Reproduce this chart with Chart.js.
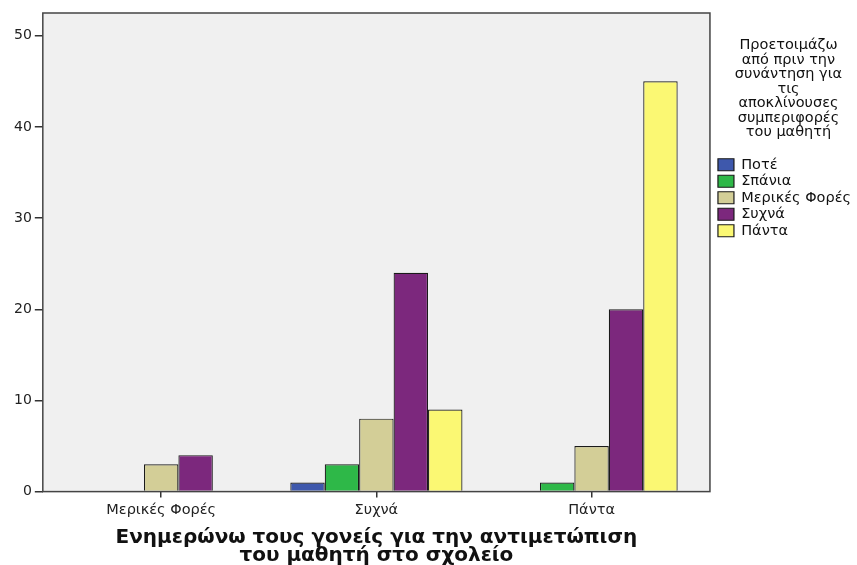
<!DOCTYPE html>
<html>
<head>
<meta charset="utf-8">
<script src="https://cdn.jsdelivr.net/npm/chart.js@4/dist/chart.umd.min.js"></script>
<style>
html, body { margin: 0; padding: 0; background: #fff; }
</style>
</head>
<body>
<canvas id="bar-chart" width="857" height="565"></canvas>
<script>
categories = ['Μερικές Φορές', 'Συχνά', 'Πάντα'];
seriesNames = ['Ποτέ', 'Σπάνια', 'Μερικές Φορές', 'Συχνά', 'Πάντα'];

pote    = [null, 1, null];
spania  = [null, 3, 1];
merikes = [3, 8, 5];
syxna   = [4, 24, 20];
panta   = [null, 9, 45];

colors = ['#3E58AC', '#2EB848', '#D3CE97', '#7C287D', '#FBF873'];
yTicks = [0, 10, 20, 30, 40, 50];

legendTitle = ['Προετοιμάζω', 'από πριν την', 'συνάντηση για', 'τις', 'αποκλίνουσες', 'συμπεριφορές', 'του μαθητή'];
axisTitle = ['Ενημερώνω τους γονείς για την αντιμετώπιση', 'του μαθητή στο σχολείο'];

font = 'DejaVu Sans';
series = [pote, spania, merikes, syxna, panta];

// grey plot background + frame, like SPSS
const plotFrame = {
  id: 'plotFrame',
  afterLayout(chart) {
    // legend sits a little further right than chart.js puts it
    chart.legend.left += 6;
    chart.legend.right += 6;
  },
  beforeDraw(chart) {
    const {ctx, chartArea: a} = chart;
    ctx.save();
    ctx.fillStyle = '#F0F0F0';
    ctx.fillRect(a.left, a.top, a.right - a.left, a.bottom - a.top);
    ctx.restore();
  },
  afterDatasetsDraw(chart) {
    const {ctx, chartArea: a} = chart;
    ctx.save();
    ctx.strokeStyle = '#444';
    ctx.lineWidth = 1.5;
    ctx.strokeRect(a.left, a.top, a.right - a.left, a.bottom - a.top);
    ctx.restore();
  }
};

datasets = [];
series.forEach((vals, index) => {
  datasets.push({
    label: seriesNames[index],
    data: categories.map((c, i) => ({x: i, y: vals[i]})),
    backgroundColor: colors[index],
    borderColor: '#1a1a1a',
    borderWidth: 1.2,
    categoryPercentage: 0.8,
    barPercentage: 1.0
  });
});

new Chart(document.getElementById('bar-chart'), {
  type: 'bar',
  data: {datasets: datasets},
  plugins: [plotFrame],
  options: {
    responsive: false,
    animation: false,
    layout: {padding: {top: 13, left: 11, right: 2, bottom: 0}},
    plugins: {
      tooltip: {enabled: false},
      legend: {
        position: 'right',
        align: 'start',
        title: {
          display: true,
          text: legendTitle,
          color: '#111',
          font: {family: font, size: 14.5, lineHeight: 1.0},
          padding: {top: 25, bottom: 103}
        },
        labels: {
          color: '#111',
          font: {family: font, size: 14.5},
          boxWidth: 16,
          boxHeight: 12,
          padding: 2
        }
      }
    },
    scales: {
      x: {
        type: 'linear',
        min: -0.55,
        max: 2.55,
        offset: false,
        afterBuildTicks: (axis) => { axis.ticks = categories.map((c, i) => ({value: i})); },
        ticks: {
          color: '#222',
          font: {family: font, size: 14.5},
          padding: 4,
          callback: (v) => categories[v]
        },
        grid: {offset: false, drawOnChartArea: false, tickLength: 6, color: '#333', lineWidth: 1.5},
        border: {display: false},
        title: {
          display: true,
          text: axisTitle,
          color: '#111',
          font: {family: font, size: 20, weight: 'bold', lineHeight: 0.9},
          padding: {top: 6, bottom: 0}
        }
      },
      y: {
        min: 0,
        max: 52.5,
        afterBuildTicks: (axis) => { axis.ticks = yTicks.map(v => ({value: v})); },
        ticks: {
          color: '#222',
          font: {family: font, size: 14},
          padding: 3
        },
        grid: {drawOnChartArea: false, tickLength: 8, color: '#333', lineWidth: 1.5},
        border: {display: false}
      }
    }
  }
});
</script>
</body>
</html>
